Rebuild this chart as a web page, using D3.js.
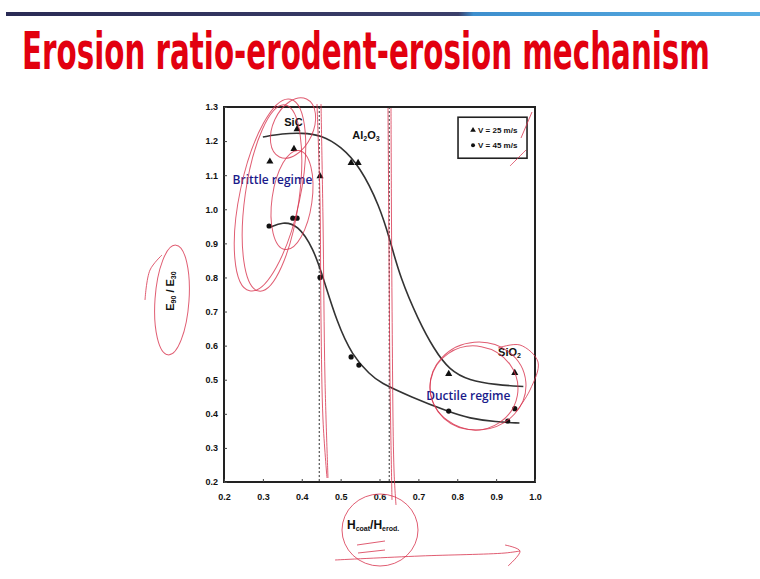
<!DOCTYPE html>
<html>
<head>
<meta charset="utf-8">
<script src="https://cdn.jsdelivr.net/npm/d3@7"></script>
<style>
    body { margin: 0; background: #fff; }
    svg { display: block; }
    .tick-lbl { font-family: "Liberation Sans Narrow", "Liberation Sans", Arial, sans-serif; font-weight: bold; font-size: 9px; fill: #111; }
    .ink { fill: none; stroke: #d8354f; stroke-width: 1; opacity: .8; }
</style>
</head>
<body>
<svg id="chart" width="760" height="579"></svg>
<script>
    // data
    const xTicks = [0.2, 0.3, 0.4, 0.5, 0.6, 0.7, 0.8, 0.9, 1.0];
    const yTicks = [0.2, 0.3, 0.4, 0.5, 0.6, 0.7, 0.8, 0.9, 1.0, 1.1, 1.2, 1.3];

    // V = 25 m/s (triangles)
    const v25 = [
        [0.318, 1.14], [0.38, 1.177], [0.388, 1.235], [0.447, 1.097],
        [0.527, 1.136], [0.545, 1.136], [0.778, 0.517], [0.948, 0.52]
    ];
    // V = 45 m/s (circles)
    const v45 = [
        [0.316, 0.951], [0.377, 0.974], [0.388, 0.974], [0.447, 0.80],
        [0.527, 0.567], [0.547, 0.543], [0.778, 0.408], [0.93, 0.379], [0.948, 0.415]
    ];
    // fitted curves, points
    const fit25 = [
        [0.30, 1.212], [0.35, 1.222], [0.40, 1.224], [0.45, 1.218], [0.50, 1.185],
        [0.55, 1.125], [0.60, 1.01], [0.627, 0.91], [0.653, 0.80], [0.70, 0.675],
        [0.74, 0.59], [0.78, 0.528], [0.83, 0.498], [0.90, 0.485], [0.97, 0.48]
    ];
    const fit45 = [
        [0.32, 0.948], [0.35, 0.963], [0.39, 0.955], [0.43, 0.885], [0.455, 0.80],
        [0.49, 0.67], [0.53, 0.57], [0.576, 0.515], [0.60, 0.492], [0.68, 0.45],
        [0.78, 0.405], [0.83, 0.387], [0.90, 0.376], [0.96, 0.373]
    ];
    const dashedAt = [0.445, 0.625];

    const svg = d3.select("#chart");

    // top rule
    const grad = svg.append("defs").append("linearGradient").attr("id", "rule");
    grad.append("stop").attr("offset", "0").attr("stop-color", "#2a2b55");
    grad.append("stop").attr("offset", "0.6").attr("stop-color", "#3b3f6a");
    grad.append("stop").attr("offset", "0.62").attr("stop-color", "#3d8fce");
    grad.append("stop").attr("offset", "1").attr("stop-color", "#5aaee3");
    svg.append("rect").attr("x", 6).attr("y", 12).attr("width", 754).attr("height", 4)
        .attr("fill", "url(#rule)");

    // title: size it to the slide width, then stretch vertically
    const title = svg.append("text")
        .attr("x", 0).attr("y", 0)
        .style("font-family", "'Liberation Sans Narrow', 'DejaVu Sans Condensed', sans-serif")
        .style("font-weight", "bold").style("font-size", "40px")
        .style("fill", "#e2000f")
        .text("Erosion ratio-erodent-erosion mechanism");
    const tw = title.node().getComputedTextLength();
    const fs = 40 * 688 / tw;
    const sy = 38 / (0.73 * fs);
    title.style("font-size", fs + "px")
        .attr("transform", `translate(22,69) scale(1,${sy})`);

    const x = d3.scaleLinear().domain([0.2, 1.0]).range([224, 535]);
    const y = d3.scaleLinear().domain([0.2, 1.3]).range([482, 107]);

    // frame
    svg.append("rect")
        .attr("x", x(0.2)).attr("y", y(1.3))
        .attr("width", x(1.0) - x(0.2)).attr("height", y(0.2) - y(1.3))
        .attr("fill", "none").attr("stroke", "#222").attr("stroke-width", 2);

    const xAxis = svg.append("g").attr("transform", `translate(0,${y(0.2)})`)
        .call(d3.axisBottom(x).tickValues(xTicks).tickSize(-3).tickPadding(12).tickFormat(d3.format(".1f")));
    const yAxis = svg.append("g").attr("transform", `translate(${x(0.2)},0)`)
        .call(d3.axisLeft(y).tickValues(yTicks).tickSize(-3).tickPadding(6).tickFormat(d3.format(".1f")));
    [xAxis, yAxis].forEach(a => {
        a.select(".domain").remove();
        a.selectAll(".tick line").attr("stroke", "#444");
        a.selectAll(".tick text").attr("class", "tick-lbl");
    });

    // dashed verticals
    svg.selectAll(".dash").data(dashedAt).join("line")
        .attr("x1", d => x(d)).attr("x2", d => x(d))
        .attr("y1", y(1.3)).attr("y2", y(0.2))
        .attr("stroke", "#333").attr("stroke-width", 1).attr("stroke-dasharray", "2,2");

    // fitted curves
    const line = d3.line().x(d => x(d[0])).y(d => y(d[1])).curve(d3.curveBasis);
    svg.selectAll(".fit").data([fit25, fit45]).join("path")
        .attr("d", line).attr("fill", "none").attr("stroke", "#333").attr("stroke-width", 1.6);

    // markers
    svg.selectAll(".tri").data(v25).join("path")
        .attr("d", d3.symbol(d3.symbolTriangle, 22))
        .attr("transform", d => `translate(${x(d[0])},${y(d[1])})`)
        .attr("fill", "#111");
    svg.selectAll(".dot").data(v45).join("circle")
        .attr("cx", d => x(d[0])).attr("cy", d => y(d[1])).attr("r", 2.6)
        .attr("fill", "#111");

    // legend
    const lg = svg.append("g").attr("transform", `translate(${x(0.802)},${y(1.27)})`);
    lg.append("rect").attr("width", 69).attr("height", 41)
        .attr("fill", "#fff").attr("stroke", "#222").attr("stroke-width", 1.6);
    lg.append("path").attr("d", d3.symbol(d3.symbolTriangle, 14)).attr("transform", "translate(15,13)").attr("fill", "#111");
    lg.append("circle").attr("cx", 15).attr("cy", 28).attr("r", 2).attr("fill", "#111");
    lg.append("text").attr("x", 20).attr("y", 16).attr("class", "tick-lbl").style("font-size", "8px").text("V = 25 m/s");
    lg.append("text").attr("x", 20).attr("y", 31).attr("class", "tick-lbl").style("font-size", "8px").text("V = 45 m/s");

    // material labels
    const lbl = (xv, yv, main, sub, tail) => {
        const t = svg.append("text").attr("x", x(xv)).attr("y", y(yv)).attr("class", "tick-lbl").style("font-size", "11px");
        t.append("tspan").text(main);
        if (sub) {
            t.append("tspan").attr("dy", 2).style("font-size", "7px").text(sub[0]);
            t.append("tspan").attr("dy", -2).text(tail || "");
            if (sub[1]) t.append("tspan").attr("dy", 2).style("font-size", "7px").text(sub[1]);
        }
    };
    lbl(0.355, 1.245, "SiC");
    lbl(0.53, 1.205, "Al", ["2", "3"], "O");
    lbl(0.905, 0.57, "SiO", ["2"]);

    svg.append("text").attr("x", x(0.222)).attr("y", y(1.073))
        .style("font-family", "'Open Sans', 'Noto Sans', sans-serif").style("font-size", "12px")
        .style("font-weight", 600).style("fill", "#1a1a8a").text("Brittle regime");
    svg.append("text").attr("x", x(0.72)).attr("y", y(0.44))
        .style("font-family", "'Open Sans', 'Noto Sans', sans-serif").style("font-size", "12px")
        .style("font-weight", 600).style("fill", "#1a1a8a").text("Ductile regime");

    // axis titles
    const yt = svg.append("text").attr("class", "tick-lbl").style("font-size", "11px")
        .attr("text-anchor", "middle")
        .attr("transform", `translate(174,${y(0.76)}) rotate(-90)`);
    yt.append("tspan").text("E");
    yt.append("tspan").attr("dy", 2).style("font-size", "7px").text("90");
    yt.append("tspan").attr("dy", -2).text(" / E");
    yt.append("tspan").attr("dy", 2).style("font-size", "7px").text("30");

    const xt = svg.append("text").attr("class", "tick-lbl").style("font-size", "12px")
        .attr("x", 347).attr("y", 529);
    xt.append("tspan").text("H");
    xt.append("tspan").attr("dy", 2).style("font-size", "7px").text("coat");
    xt.append("tspan").attr("dy", -2).text("/H");
    xt.append("tspan").attr("dy", 2).style("font-size", "7px").text("erod.");

    // red hand-drawn annotations
    const ink = svg.append("g");
    const ell = (cx, cy, rx, ry, rot) => ink.append("ellipse").attr("class", "ink")
        .attr("cx", cx).attr("cy", cy).attr("rx", rx).attr("ry", ry)
        .attr("transform", `rotate(${rot},${cx},${cy})`);
    ell(270, 195, 30, 98, 12);
    ell(272, 198, 27, 94, 8);
    ell(293, 128, 20, 32, 25);
    ell(292, 200, 20, 50, 8);
    ell(172, 300, 17, 55, 4);
    ell(478, 386, 48, 44, -5);
    ell(474, 388, 44, 42, 10);
    ell(380, 530, 38, 36, 0);

    const hand = d3.line().curve(d3.curveCatmullRom);
    const strokes = [
        [[317, 104], [320, 200], [321, 320], [323, 420], [327, 478]],
        [[321, 104], [323, 220], [325, 380], [328, 478]],
        [[388, 108], [389, 250], [390, 380], [392, 500]],
        [[391, 108], [392, 300], [394, 470], [396, 505]],
        [[335, 560], [420, 556], [505, 553], [520, 551]],
        [[505, 545], [520, 551], [508, 566]],
        [[357, 545], [385, 541]],
        [[358, 553], [385, 550]],
        [[498, 348], [520, 345], [538, 362], [530, 390], [516, 412]],
        [[521, 138], [532, 112]],
        [[510, 166], [516, 160], [526, 150]],
        [[145, 300], [150, 270], [162, 255]]
    ];
    strokes.forEach(s => ink.append("path").attr("class", "ink").attr("d", hand(s)));
</script>
</body>
</html>
